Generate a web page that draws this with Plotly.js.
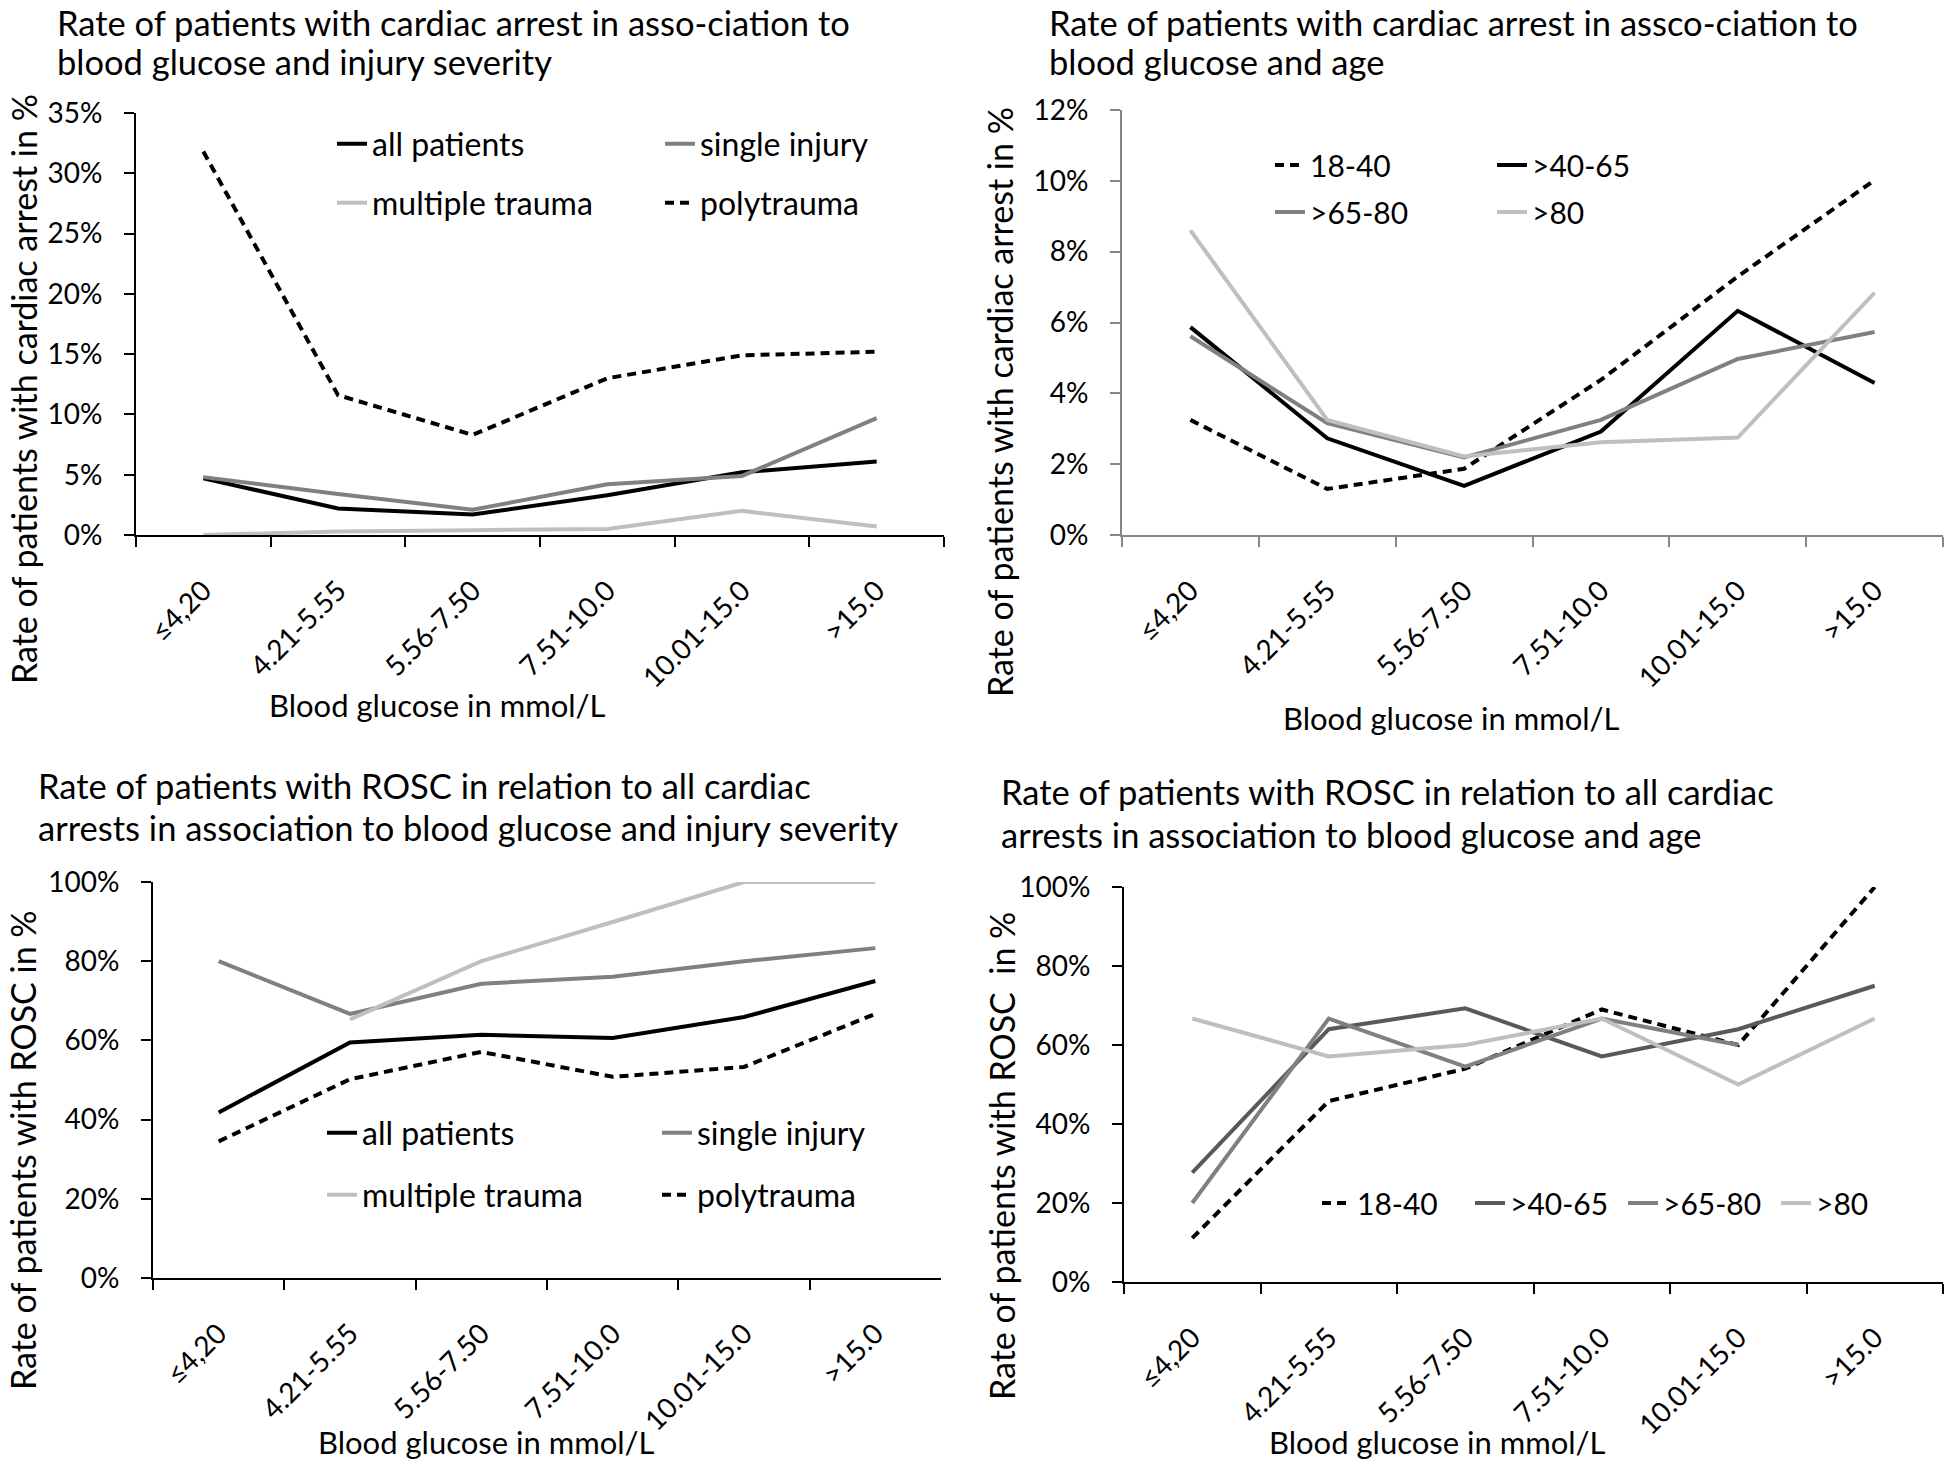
<!DOCTYPE html>
<html>
<head>
<meta charset="utf-8">
<script src="https://cdn.plot.ly/plotly-3.0.1.min.js"></script>
<style>
  html, body { margin: 0; padding: 0; background: #fff; }
  #chart { width: 1946px; height: 1465px; }
</style>
</head>
<body>
<div id="chart"></div>
<script>
const glucoseBins = ["≤4,20", "4.21-5.55", "5.56-7.50", "7.51-10.0", "10.01-15.0", ">15.0"];

// cardiac arrest rate (%) by injury severity
const caAllPatients = [4.7, 2.2, 1.7, 3.3, 5.2, 6.1];
const caSingleInjury = [4.8, 3.4, 2.1, 4.2, 4.9, 9.7];
const caMultipleTrauma = [0.0, 0.3, 0.4, 0.5, 2.0, 0.7];
const caPolytrauma = [31.8, 11.6, 8.3, 13.0, 14.9, 15.2];

// cardiac arrest rate (%) by age group
const caAge18to40 = [3.25, 1.30, 1.87, 4.38, 7.30, 10.02];
const caAge40to65 = [5.87, 2.73, 1.39, 2.92, 6.33, 4.29];
const caAge65to80 = [5.61, 3.16, 2.19, 3.25, 4.97, 5.73];
const caAgeOver80 = [8.60, 3.25, 2.22, 2.62, 2.75, 6.84];

// ROSC rate (%) among cardiac arrests by injury severity
const roscAllPatients = [41.8, 59.5, 61.4, 60.6, 65.9, 75.0];
const roscSingleInjury = [80.0, 66.7, 74.3, 76.1, 80.0, 83.3];
const roscMultipleTrauma = [null, 65.3, 80.0, 89.9, 100, 100];
const roscPolytrauma = [34.5, 50.2, 57.1, 50.8, 53.3, 66.7];

// ROSC rate (%) among cardiac arrests by age group
const roscAge18to40 = [11.1, 45.8, 54.0, 69.0, 60.0, 100];
const roscAge40to65 = [27.7, 64.0, 69.3, 57.1, 64.0, 75.0];
const roscAge65to80 = [20.0, 66.7, 54.5, 66.7, 60.0, null];
const roscAgeOver80 = [66.7, 57.1, 60.0, 66.7, 50.0, 66.7];

const W = 1946, H = 1465;
const FONT = "Lato, 'Liberation Sans', sans-serif";
const px = (x) => x / W;
const py = (y) => 1 - y / H;

const COLORS = { black: "#000000", dark: "#595959", mid: "#808080", light: "#bfbfbf", axisGray: "#868686" };
const DASH = "9px,6px";

function series(name, y, color, dash, xaxis, yaxis, legend) {
  return {
    x: glucoseBins, y, name, type: "scatter", mode: "lines",
    line: { color, width: 4, dash: dash || "solid" },
    xaxis, yaxis, legend, connectgaps: false,
  };
}

function xAxis(x0, x1, anchor, lineColor) {
  return {
    domain: [px(x0), px(x1)], anchor, type: "category", range: [-0.5, 5.5],
    tickson: "boundaries", ticks: "outside", ticklen: 10, tickwidth: 2, tickcolor: lineColor,
    showline: true, linecolor: lineColor, linewidth: 2, showgrid: false, zeroline: false,
    tickangle: -45, ticklabelstandoff: 26,
    tickfont: { family: FONT, size: 28, color: "#000" }, fixedrange: true,
  };
}

function yAxis(yTop, yBottom, anchor, max, step, lineColor) {
  return {
    domain: [py(yBottom), py(yTop)], anchor, range: [0, max], tick0: 0, dtick: step,
    ticksuffix: "%", ticks: "outside", ticklen: 10, tickwidth: 2, tickcolor: lineColor,
    showline: true, linecolor: lineColor, linewidth: 2, showgrid: false, zeroline: false,
    ticklabelstandoff: 16,
    tickfont: { family: FONT, size: 28, color: "#000" }, fixedrange: true,
  };
}

function legendBox(x, y, entrywidth, size) {
  return {
    x: px(x), y: py(y), xanchor: "left", yanchor: "middle", orientation: "h",
    entrywidth, entrywidthmode: "pixels", bgcolor: "rgba(0,0,0,0)", borderwidth: 0,
    font: { family: FONT, size, color: "#000" }, traceorder: "normal",
    itemclick: false, itemdoubleclick: false,
  };
}

function label(text, x, y, size, opts) {
  return Object.assign({
    text, x: px(x), y: py(y), xref: "paper", yref: "paper", showarrow: false,
    xanchor: "center", yanchor: "middle",
    font: { family: FONT, size, color: "#000" },
  }, opts || {});
}

const titleLine = (text, x, y) => label(text, x, y, 34.5, { xanchor: "left", align: "left" });
const yTitle = (text, x, y) => label(text, x, y, 34, { textangle: -90 });
const xTitle = (text, x, y) => label(text, x, y, 31);

const traces = [
  series("all patients", caAllPatients, COLORS.black, null, "x", "y", "legend"),
  series("single injury", caSingleInjury, COLORS.mid, null, "x", "y", "legend"),
  series("multiple trauma", caMultipleTrauma, COLORS.light, null, "x", "y", "legend2"),
  series("polytrauma", caPolytrauma, COLORS.black, DASH, "x", "y", "legend2"),

  series("18-40", caAge18to40, COLORS.black, DASH, "x2", "y2", "legend3"),
  series(">40-65", caAge40to65, COLORS.black, null, "x2", "y2", "legend3"),
  series(">65-80", caAge65to80, COLORS.mid, null, "x2", "y2", "legend4"),
  series(">80", caAgeOver80, COLORS.light, null, "x2", "y2", "legend4"),

  series("all patients", roscAllPatients, COLORS.black, null, "x3", "y3", "legend5"),
  series("single injury", roscSingleInjury, COLORS.mid, null, "x3", "y3", "legend5"),
  series("multiple trauma", roscMultipleTrauma, COLORS.light, null, "x3", "y3", "legend6"),
  series("polytrauma", roscPolytrauma, COLORS.black, DASH, "x3", "y3", "legend6"),

  series("18-40", roscAge18to40, COLORS.black, DASH, "x4", "y4", "legend7"),
  series(">40-65", roscAge40to65, COLORS.dark, null, "x4", "y4", "legend7"),
  series(">65-80", roscAge65to80, COLORS.mid, null, "x4", "y4", "legend7"),
  series(">80", roscAgeOver80, COLORS.light, null, "x4", "y4", "legend7"),
];

const layout = {
  width: W, height: H,
  margin: { l: 0, r: 0, t: 0, b: 0 },
  paper_bgcolor: "#fff", plot_bgcolor: "#fff",
  font: { family: FONT, color: "#000" },
  showlegend: true,
  xaxis: xAxis(136, 944, "y", COLORS.black),
  yaxis: yAxis(113, 535, "x", 35, 5, COLORS.black),
  xaxis2: xAxis(1122, 1943, "y2", COLORS.axisGray),
  yaxis2: yAxis(110, 535, "x2", 12, 2, COLORS.axisGray),
  xaxis3: xAxis(153, 941, "y3", COLORS.black),
  yaxis3: yAxis(882, 1278, "x3", 100, 20, COLORS.black),
  xaxis4: xAxis(1124, 1943, "y4", COLORS.black),
  yaxis4: yAxis(887, 1282, "x4", 100, 20, COLORS.black),
  legend: legendBox(332, 144, 283, 32),
  legend2: legendBox(332, 203, 283, 32),
  legend3: legendBox(1270, 165, 177, 30),
  legend4: legendBox(1270, 212, 177, 30),
  legend5: legendBox(322, 1133, 290, 32),
  legend6: legendBox(322, 1195, 290, 32),
  legend7: legendBox(1317, 1203, 108, 30),
  annotations: [
    titleLine("Rate of patients with cardiac arrest in asso-ciation to", 55, 23),
    titleLine("blood glucose and injury severity", 55, 61),
    titleLine("Rate of patients with cardiac arrest in assco-ciation to", 1047, 23),
    titleLine("blood glucose and age", 1047, 61),
    titleLine("Rate of patients with ROSC in relation to all cardiac", 36, 785),
    titleLine("arrests in association to blood glucose and injury severity", 36, 827),
    titleLine("Rate of patients with ROSC in relation to all cardiac", 999, 791),
    titleLine("arrests in association to blood glucose and age", 999, 834),

    yTitle("Rate of patients with cardiac arrest in %", 23, 389),
    yTitle("Rate of patients with cardiac arrest in %", 999, 402),
    yTitle("Rate of patients with ROSC in %", 22, 1150),
    yTitle("Rate of patients with ROSC\u00a0 in %", 1001, 1156),

    xTitle("Blood glucose in mmol/L", 437, 705),
    xTitle("Blood glucose in mmol/L", 1451, 718),
    xTitle("Blood glucose in mmol/L", 486, 1442),
    xTitle("Blood glucose in mmol/L", 1437, 1442),
  ],
};

Plotly.newPlot("chart", traces, layout, { displayModeBar: false, staticPlot: true });
</script>
</body>
</html>
